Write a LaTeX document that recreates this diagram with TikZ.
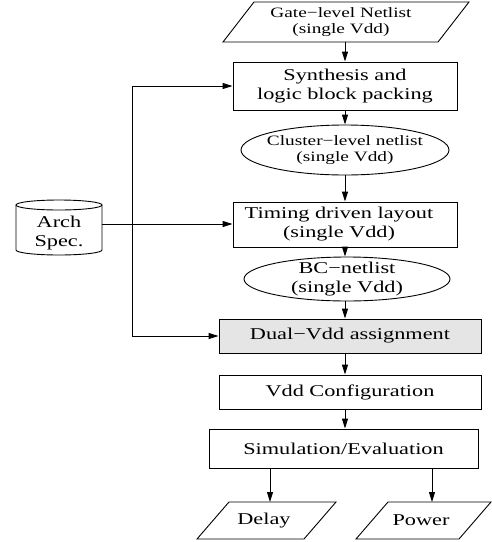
\documentclass[tikz,border=0pt]{standalone}
\usepackage{fontspec}
\setmainfont{Liberation Serif}[FakeStretch=1.35]
\usetikzlibrary{arrows.meta,shapes.geometric}
\definecolor{dualgray}{gray}{0.9}

\begin{document}
\begin{tikzpicture}[x=1pt,y=-1pt,
  every node/.style={font=\fontsize{16.5}{19}\selectfont, inner sep=0pt, align=center},
  small/.style={font=\fontsize{14.3}{16.5}\selectfont},
  outline/.style={draw, line width=0.9pt},
  box/.style={outline, rectangle},
  flow/.style={line width=0.9pt, -{Triangle[length=10pt,width=6pt]}},
  link/.style={line width=0.9pt}]
\useasboundingbox (0,0) rectangle (492,542);

% input netlist (parallelogram)
\draw[outline] (223,42) -- (254,2) -- (469,2) -- (438,42) -- cycle;
\node[small, minimum width=200pt, minimum height=40pt] (gate) at (341,22)
  {Gate−level Netlist\\(single Vdd)};

% main flow
\node[box, minimum width=224pt, minimum height=48pt] (synth) at (345,86)
  {Synthesis and\\logic block packing};
\node[outline, ellipse, minimum width=208pt, minimum height=50pt] (cluster) at (345,150) {};
\node[small] at (cluster.center) {Cluster−level netlist\\(single Vdd)};
\node[box, minimum width=224pt, minimum height=45pt] (timing) at (345,224.5) {};
\node at (339,224.5) {Timing driven layout\\(single Vdd)};
\node[outline, ellipse, minimum width=206pt, minimum height=44pt] (bc) at (347,279) {};
\node at (bc.center) {BC−netlist\\(single Vdd)};
\node[box, fill=dualgray, minimum width=262pt, minimum height=34pt] (dual) at (350,336)
  {Dual−Vdd assignment};
\node[box, minimum width=262pt, minimum height=34pt] (vdd) at (350,392)
  {Vdd Configuration};
\node[box, minimum width=269pt, minimum height=39pt] (sim) at (343.5,448.5)
  {Simulation/Evaluation};

% outputs (parallelograms)
\draw[outline] (197,539) -- (229,502) -- (336,502) -- (304,539) -- cycle;
\node (delay) at (264,520.5) {Delay};
\draw[outline] (356,539) -- (388,502) -- (491,502) -- (459,539) -- cycle;
\node (power) at (421,520.5) {Power};
\coordinate (delayin) at (270,502);
\coordinate (powerin) at (432,502);

% architecture specification (cylinder)
\draw[outline] (16,205) -- (16,250)
  arc[start angle=180, end angle=360, x radius=43pt, y radius=5pt] -- (102,205);
\draw[outline] (59,205) ellipse [x radius=43pt, y radius=5pt];
\node[minimum width=86pt, minimum height=40pt] (arch) at (59,233) {Arch\\Spec.};
\coordinate (archout) at (102,224);
\coordinate (split) at (132,224);

% connectors
\coordinate (axis) at (345,0);
\draw[flow] (gate.south -| axis) -- (synth.north -| axis);
\draw[flow] (synth.south -| axis) -- (cluster.north -| axis);
\draw[flow] (cluster.south -| axis) -- (timing.north -| axis);
\draw[flow] (timing.south -| axis) -- (bc.north -| axis);
\draw[flow] (bc.south -| axis) -- (dual.north -| axis);
\draw[flow] (dual.south -| axis) -- (vdd.north -| axis);
\draw[flow] (vdd.south -| axis) -- (sim.north -| axis);
\draw[flow] (sim.south -| delayin) -- (delayin);
\draw[flow] (sim.south -| powerin) -- (powerin);

\draw[flow] (archout) -- (archout -| timing.west);
\draw[flow] (split) |- (synth.west);
\draw[flow] (split) |- (dual.west);
\end{tikzpicture}
\end{document}
